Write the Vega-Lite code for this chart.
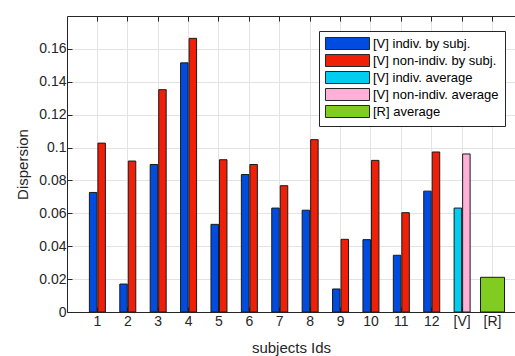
{
  "$schema": "https://vega.github.io/schema/vega-lite/v6.json",
  "width": 448,
  "height": 296,
  "autosize": {"type": "none"},
  "padding": {"left": 67, "top": 16, "right": 0, "bottom": 44},
  "background": "white",
  "config": {
    "view": {"stroke": null},
    "font": "Liberation Sans",
    "axis": {
      "labelFont": "Liberation Sans",
      "labelFontSize": 14,
      "labelColor": "#262626",
      "titleFont": "Liberation Sans",
      "titleFontSize": 15,
      "titleFontWeight": "normal",
      "titleColor": "#262626",
      "domainColor": "#262626",
      "tickColor": "#262626",
      "gridColor": "#e3e3e3",
      "gridOpacity": 1,
      "tickSize": -5
    }
  },
  "data": {
    "values": [
      {"subject": "1", "kind": "indiv", "series": "[V] indiv. by subj.", "value": 0.0727},
      {"subject": "1", "kind": "non-indiv", "series": "[V] non-indiv. by subj.", "value": 0.1027},
      {"subject": "2", "kind": "indiv", "series": "[V] indiv. by subj.", "value": 0.0170},
      {"subject": "2", "kind": "non-indiv", "series": "[V] non-indiv. by subj.", "value": 0.0918},
      {"subject": "3", "kind": "indiv", "series": "[V] indiv. by subj.", "value": 0.0897},
      {"subject": "3", "kind": "non-indiv", "series": "[V] non-indiv. by subj.", "value": 0.1352},
      {"subject": "4", "kind": "indiv", "series": "[V] indiv. by subj.", "value": 0.1515},
      {"subject": "4", "kind": "non-indiv", "series": "[V] non-indiv. by subj.", "value": 0.1664},
      {"subject": "5", "kind": "indiv", "series": "[V] indiv. by subj.", "value": 0.0533},
      {"subject": "5", "kind": "non-indiv", "series": "[V] non-indiv. by subj.", "value": 0.0926},
      {"subject": "6", "kind": "indiv", "series": "[V] indiv. by subj.", "value": 0.0836},
      {"subject": "6", "kind": "non-indiv", "series": "[V] non-indiv. by subj.", "value": 0.0897},
      {"subject": "7", "kind": "indiv", "series": "[V] indiv. by subj.", "value": 0.0632},
      {"subject": "7", "kind": "non-indiv", "series": "[V] non-indiv. by subj.", "value": 0.0768},
      {"subject": "8", "kind": "indiv", "series": "[V] indiv. by subj.", "value": 0.0619},
      {"subject": "8", "kind": "non-indiv", "series": "[V] non-indiv. by subj.", "value": 0.1048},
      {"subject": "9", "kind": "indiv", "series": "[V] indiv. by subj.", "value": 0.0140},
      {"subject": "9", "kind": "non-indiv", "series": "[V] non-indiv. by subj.", "value": 0.0442},
      {"subject": "10", "kind": "indiv", "series": "[V] indiv. by subj.", "value": 0.0440},
      {"subject": "10", "kind": "non-indiv", "series": "[V] non-indiv. by subj.", "value": 0.0922},
      {"subject": "11", "kind": "indiv", "series": "[V] indiv. by subj.", "value": 0.0345},
      {"subject": "11", "kind": "non-indiv", "series": "[V] non-indiv. by subj.", "value": 0.0604},
      {"subject": "12", "kind": "indiv", "series": "[V] indiv. by subj.", "value": 0.0735},
      {"subject": "12", "kind": "non-indiv", "series": "[V] non-indiv. by subj.", "value": 0.0973},
      {"subject": "[V]", "kind": "indiv", "series": "[V] indiv. average", "value": 0.0632},
      {"subject": "[V]", "kind": "non-indiv", "series": "[V] non-indiv. average", "value": 0.0961},
      {"subject": "[R]", "kind": "average", "series": "[R] average", "value": 0.0211}
    ]
  },
  "encoding": {
    "y": {
      "field": "value",
      "type": "quantitative",
      "scale": {"domain": [0, 0.18], "nice": false},
      "axis": {
        "values": [0, 0.02, 0.04, 0.06, 0.08, 0.1, 0.12, 0.14, 0.16],
        "format": "~g",
        "title": "Dispersion",
        "grid": true,
        "labelPadding": 6,
        "titlePadding": 8
      }
    },
    "color": {
      "field": "series",
      "type": "nominal",
      "scale": {
        "domain": ["[V] indiv. by subj.", "[V] non-indiv. by subj.", "[V] indiv. average", "[V] non-indiv. average", "[R] average"],
        "range": ["#004ce0", "#f02008", "#00cdf0", "#ffb0d8", "#80cc20"]
      },
      "legend": {
        "orient": "none",
        "legendX": 252,
        "legendY": 15,
        "title": null,
        "symbolType": "M-3.67,-1H3.67V1H-3.67Z",
        "symbolSize": 144,
        "symbolStrokeColor": "#262626",
        "symbolStrokeWidth": 1,
        "symbolOpacity": 1,
        "labelFont": "Liberation Sans",
        "labelFontSize": 13,
        "labelColor": "#000000",
        "padding": 6,
        "strokeColor": "#262626",
        "fillColor": "white",
        "rowPadding": 0,
        "symbolOffset": 16,
        "labelOffset": 19
      }
    }
  },
  "layer": [
    {
      "transform": [{"filter": "datum.subject != '[R]'"}],
      "mark": {"type": "bar", "stroke": "#1a1a1a", "strokeWidth": 1},
      "encoding": {
        "x": {
          "field": "subject",
          "type": "nominal",
          "sort": null,
          "scale": {
            "type": "band",
            "domain": ["1", "2", "3", "4", "5", "6", "7", "8", "9", "10", "11", "12", "[V]", "[R]"],
            "paddingInner": 0,
            "paddingOuter": 0.37,
            "align": 0.676
          },
          "axis": {
            "orient": "bottom",
            "title": "subjects Ids",
            "labelAngle": 0,
            "grid": false,
            "bandPosition": 0.5,
            "labelPadding": 7,
            "titlePadding": 12
          }
        },
        "xOffset": {
          "field": "kind",
          "type": "nominal",
          "scale": {"domain": ["indiv", "non-indiv"], "paddingInner": 0.118, "paddingOuter": 0.847}
        }
      }
    },
    {
      "transform": [{"filter": "datum.subject == '[R]'"}],
      "mark": {"type": "bar", "width": {"band": 0.79}, "stroke": "#1a1a1a", "strokeWidth": 1},
      "encoding": {
        "x": {
          "field": "subject",
          "type": "nominal",
          "sort": null,
          "scale": {
            "type": "band",
            "domain": ["1", "2", "3", "4", "5", "6", "7", "8", "9", "10", "11", "12", "[V]", "[R]"],
            "paddingInner": 0,
            "paddingOuter": 0.37,
            "align": 0.676
          },
          "axis": {
            "orient": "top",
            "title": null,
            "labels": false,
            "grid": true,
            "bandPosition": 0.5
          }
        }
      }
    }
  ],
  "resolve": {"axis": {"x": "independent"}}
}
